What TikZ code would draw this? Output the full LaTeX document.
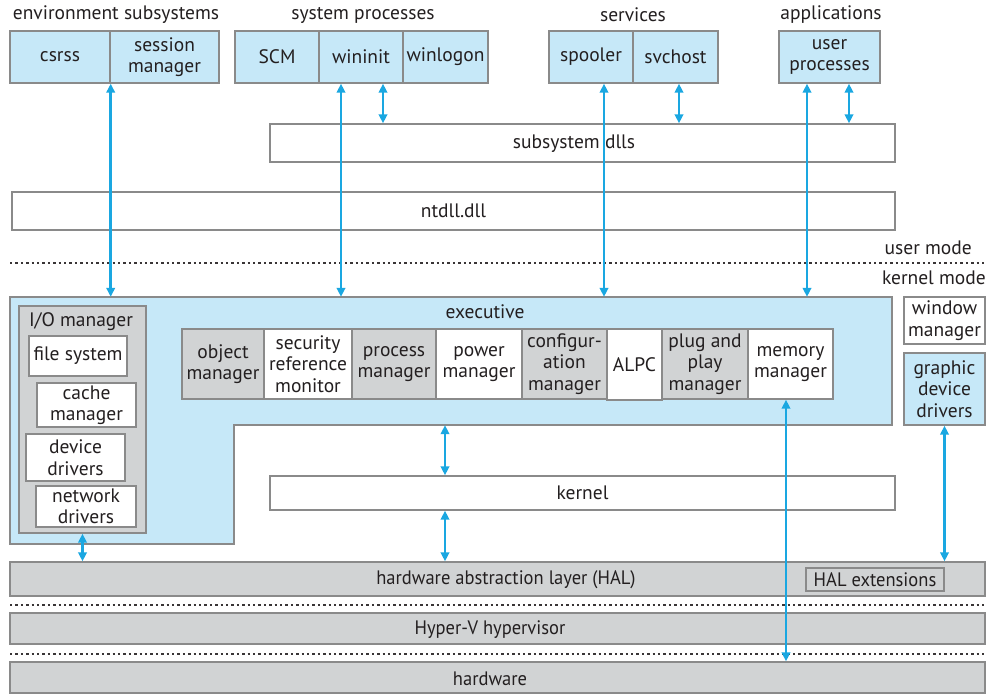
\documentclass[tikz,border=0pt]{standalone}
\usepackage{fontspec}
\setmainfont{PT Sans}
\newfontfamily\condfont[FakeStretch=0.95]{PT Sans}
\usetikzlibrary{arrows.meta}
\definecolor{bfill}{HTML}{C6E8F8}
\definecolor{gfill}{HTML}{D1D3D4}
\definecolor{bord}{HTML}{8A8A8A}
\definecolor{arrc}{HTML}{1AA7E1}
\definecolor{txt}{HTML}{231F20}
\newcommand\rbox[7]{\node[#6, minimum width={#4-#2}, minimum height={#5-#3}] (#1) at ({(#2+#4)/2},{(#3+#5)/2}) {#7};}
\begin{document}
\begin{tikzpicture}[x=1pt,y=-1pt,
  every node/.style={text=txt, font=\fontsize{19.5}{21.5}\selectfont, align=center, inner sep=0pt},
  bb/.style={draw=bord, line width=1.4pt, fill=bfill},
  gb/.style={draw=bord, line width=1.4pt, fill=gfill},
  wb/.style={draw=bord, line width=1.4pt, fill=white},
  lbl/.style={},
  cond/.style={font=\condfont\fontsize{19.5}{21.5}\selectfont},
  arr/.style={draw=arrc, line width=2.5pt, {Triangle[length=9pt,width=8.5pt]}-{Triangle[length=9pt,width=8.5pt]}},
  dots/.style={line width=2.4pt, dash pattern=on 2.4pt off 3pt, draw=txt!90}
]
\useasboundingbox (0,0) rectangle (1001,697);
% top labels
\node[lbl] (lenv) at (116,15) {environment subsystems};
\node[lbl] (lsys) at (363,15) {system processes};
\node[lbl] (lsrv) at (633,15) {services};
\node[lbl] (lapp) at (831,15) {applications};
% top boxes
\rbox{csrss}{10}{31}{110}{83}{bb}{csrss}
\rbox{sess}{110}{31}{219}{83}{bb}{session\\manager}
\rbox{scm}{235}{31}{319}{83}{bb}{SCM}
\rbox{wininit}{319}{31}{403}{83}{bb}{wininit}
\rbox{winlogon}{403}{31}{488}{83}{bb}{winlogon}
\rbox{spooler}{549}{31}{633}{83}{bb}{spooler}
\rbox{svchost}{633}{31}{718}{83}{bb}{svchost}
\rbox{userp}{779}{31}{880}{83}{bb}{user\\processes}
% dlls
\node[wb, minimum width=625, minimum height=38] (sdll) at (582.5,143) {};
\node (sdlltxt) at (574,144) {subsystem dlls};
\rbox{ntdll}{12}{192}{895}{230}{wb}{ntdll.dll}
% mode line
\coordinate (d1a) at (10,263);
\coordinate (d1b) at (985,263);
\draw[dots] (d1a) -- (d1b);
\node[anchor=east] (umode) at (972,248) {user mode};
\node[anchor=east] (kmode) at (986,278) {kernel mode};
% executive
\draw[bb] (10,297) -- (892,297) -- (892,425) -- (234,425) -- (234,544) -- (10,544) -- cycle;
\node[minimum width=882, minimum height=128] (exec) at (451,361) {};
\node (exectxt) at (485,312) {executive};
% I/O manager
\rbox{io}{19}{306}{146}{533}{gb}{}
\node (iotxt) at (81,322) {I/O manager};
\rbox{fs}{29}{336}{127}{376}{wb}{file system}
\rbox{cache}{37}{383}{136}{427}{wb}{cache\\manager}
\rbox{dev}{26}{434}{125}{481}{wb}{device\\drivers}
\rbox{net}{36}{486}{136}{527}{wb}{network\\drivers}
% executive components
\rbox{obj}{182}{329}{264}{399}{gb}{object\\manager}
\rbox{sec}{264}{329}{352}{399}{wb}{security\\reference\\monitor}
\rbox{proc}{352}{329}{436}{399}{gb}{process\\manager}
\rbox{pow}{436}{329}{522}{399}{wb}{power\\manager}
\rbox{conf}{522}{329}{607}{399}{gb}{configur-\\ation\\manager}
\rbox{alpc}{607}{329}{662}{400}{wb}{ALPC}
\rbox{pnp}{662}{329}{748}{399}{gb}{plug and\\play\\manager}
\rbox{mem}{748}{329}{833}{399}{wb}{memory\\manager}
% right boxes
\rbox{winm}{904}{297}{985}{344}{wb}{window\\manager}
\rbox{gdd}{904}{353}{985}{425}{bb}{graphic\\device\\drivers}
% kernel
\rbox{kernel}{270}{476}{895}{510}{wb}{kernel}
% HAL and below
\rbox{hal}{10}{562}{985}{596}{gb}{}
\node[cond] (haltxt) at (506,580) {hardware abstraction layer (HAL)};
\rbox{halext}{806}{568}{944}{591}{gb}{}
\node[cond] (halexttxt) at (875,580) {HAL extensions};
\coordinate (d2a) at (10,605);
\coordinate (d2b) at (985,605);
\draw[dots] (d2a) -- (d2b);
\rbox{hyper}{10}{613}{985}{644}{gb}{}
\node[cond] (hypertxt) at (490,629.5) {Hyper-V hypervisor};
\coordinate (d3a) at (10,654);
\coordinate (d3b) at (985,654);
\draw[dots] (d3a) -- (d3b);
\rbox{hw}{10}{662}{985}{693}{gb}{}
\node[cond] (hwtxt) at (490,678.5) {hardware};
% arrows
\coordinate (xw) at (341,0);
\coordinate (xw2) at (383,0);
\coordinate (xs) at (604,0);
\coordinate (xs2) at (679,0);
\coordinate (xu) at (807,0);
\coordinate (xu2) at (849,0);
\coordinate (xk) at (445,0);
\coordinate (xm) at (786,0);
\draw[arr] (csrss.south east) -- (csrss.south east |- exec.north);
\draw[arr] (xw |- wininit.south) -- (xw |- exec.north);
\draw[arr] (xw2 |- wininit.south) -- (xw2 |- sdll.north);
\draw[arr] (xs |- spooler.south) -- (xs |- exec.north);
\draw[arr] (xs2 |- svchost.south) -- (xs2 |- sdll.north);
\draw[arr] (xu |- userp.south) -- (xu |- exec.north);
\draw[arr] (xu2 |- userp.south) -- (xu2 |- sdll.north);
\draw[arr] (xk |- exec.south) -- (xk |- kernel.north);
\draw[arr] (xk |- kernel.south) -- (xk |- hal.north);
\draw[arr] (io.south) -- (io.south |- hal.north);
\draw[arr] (xm |- mem.south) -- (xm |- hw.north);
\draw[arr] (gdd.south) -- (gdd.south |- hal.north);
\end{tikzpicture}
\end{document}
